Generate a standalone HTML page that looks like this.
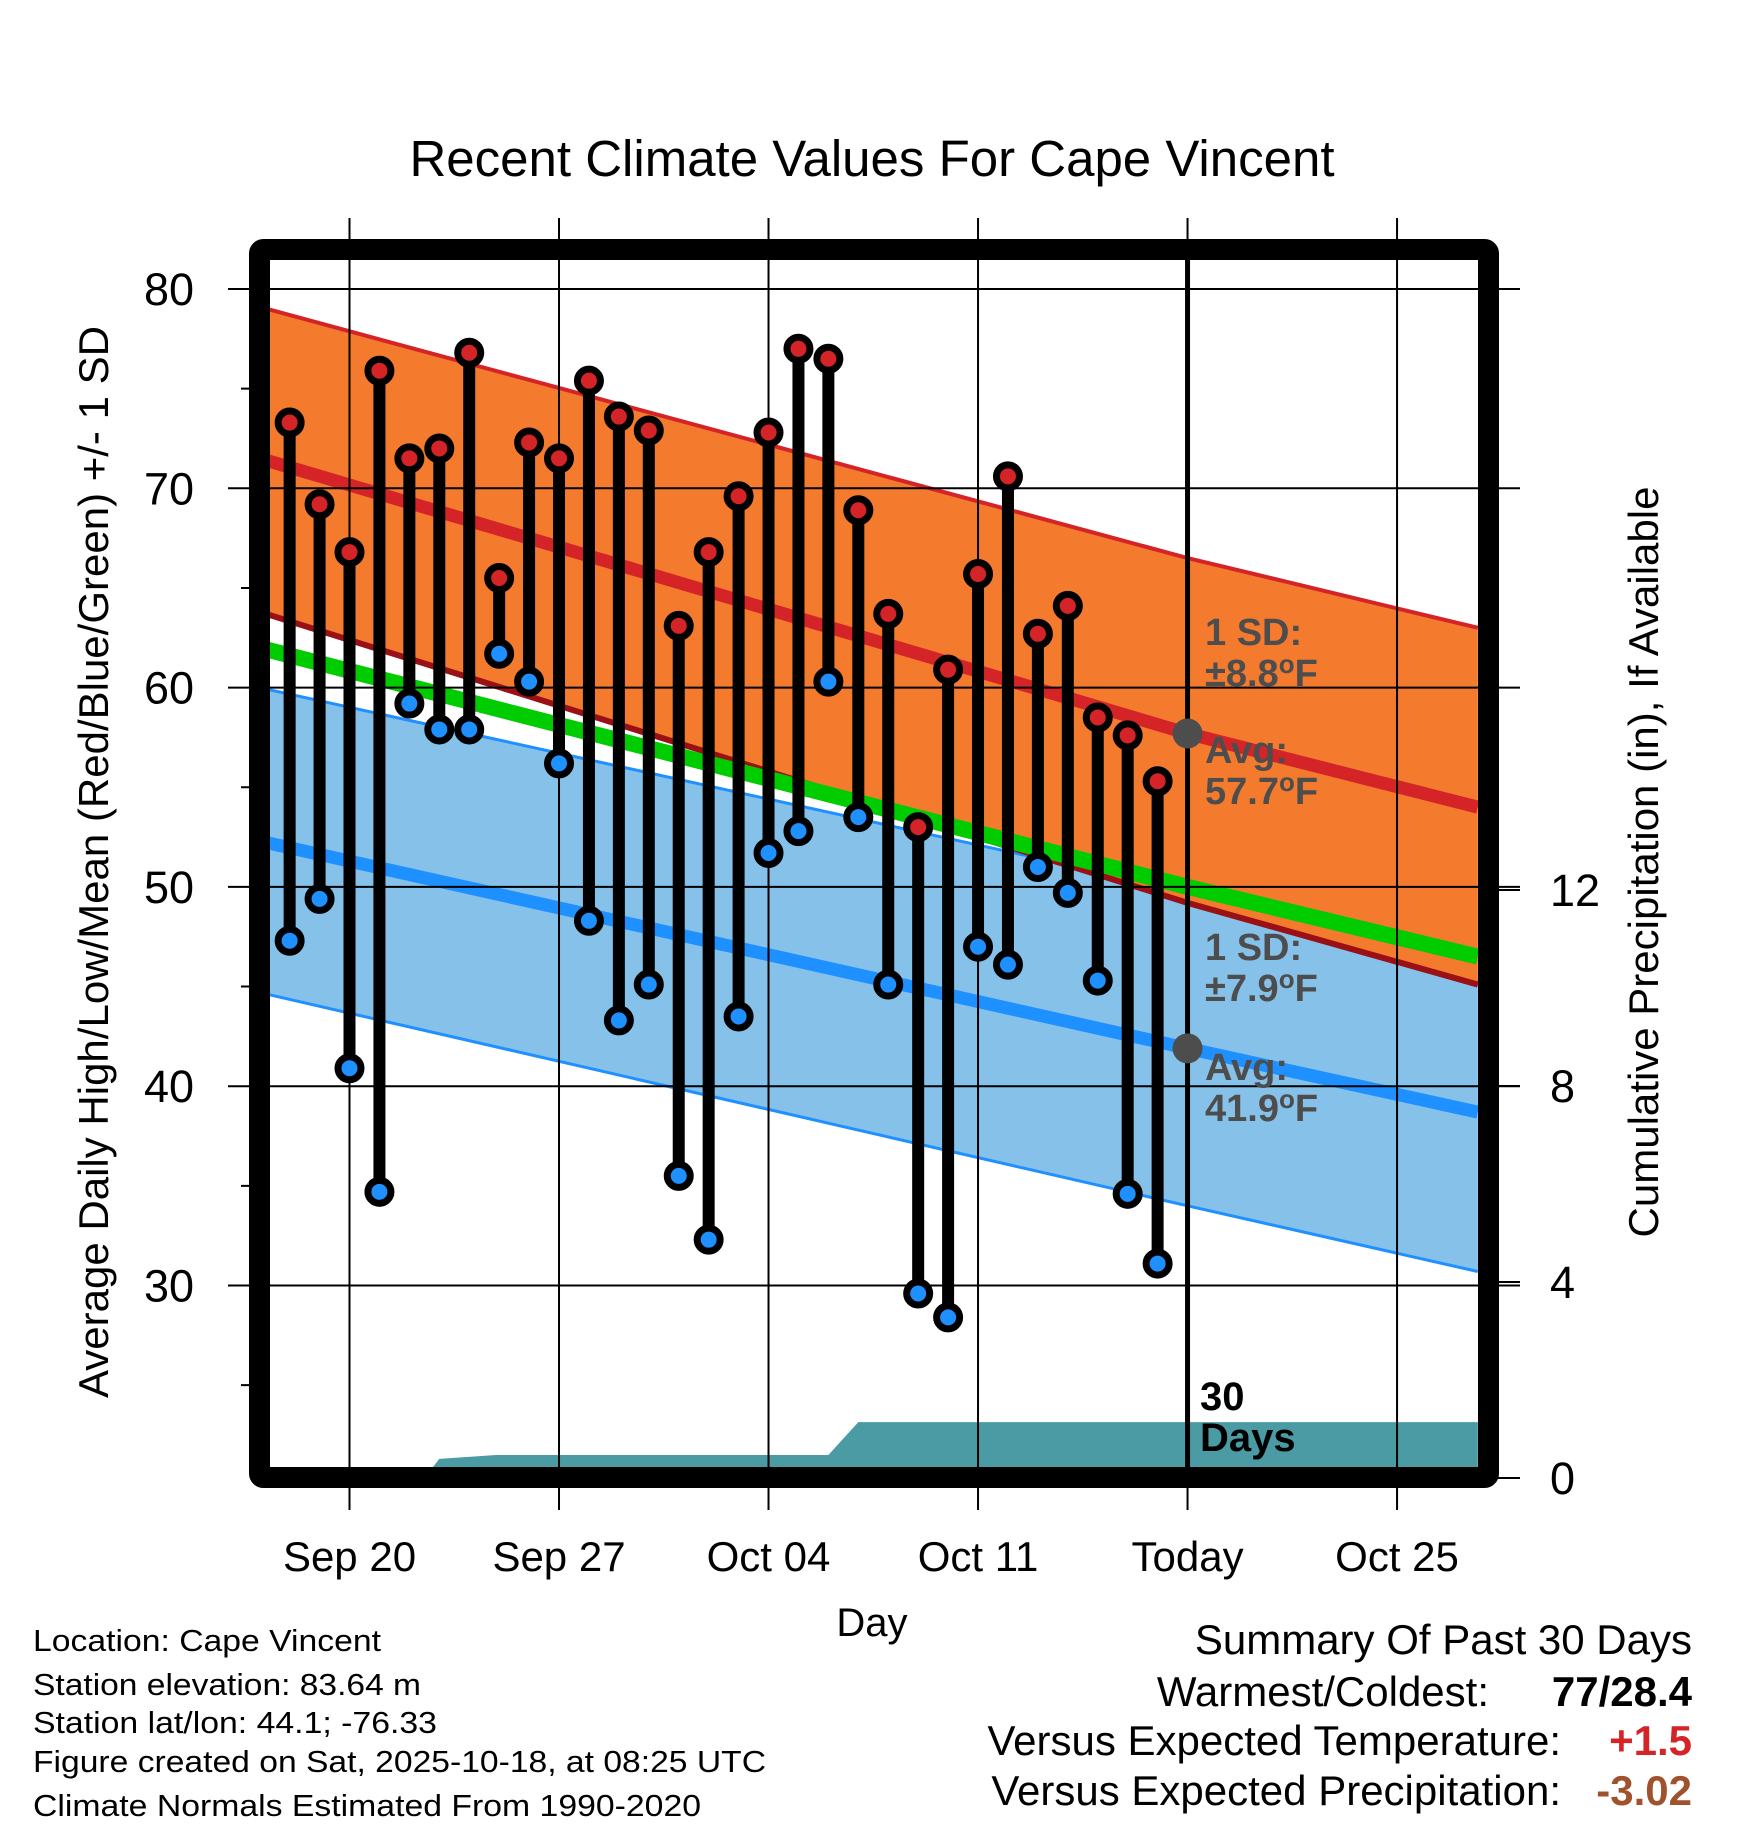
<!DOCTYPE html>
<html><head><meta charset="utf-8"><style>
html,body{margin:0;padding:0;background:#fff}
svg{display:block;font-family:"Liberation Sans",sans-serif}
</style></head><body>
<svg id="chart" width="1748" height="1828" viewBox="0 0 1748 1828" xmlns="http://www.w3.org/2000/svg">
<text x="872" y="176" font-size="51" text-anchor="middle">Recent Climate Values For Cape Vincent</text>
<g id="plot"></g>
<text transform="translate(108,862) rotate(-90)" font-size="42" text-anchor="middle">Average Daily High/Low/Mean (Red/Blue/Green) +/- 1 SD</text>
<text transform="translate(1658,862) rotate(-90)" font-size="42" text-anchor="middle">Cumulative Precipitation (in), If Available</text>
<text x="872" y="1636" font-size="40" text-anchor="middle">Day</text>
<g font-size="31">
<text x="33" y="1651" textLength="348" lengthAdjust="spacingAndGlyphs">Location: Cape Vincent</text>
<text x="33" y="1695" textLength="388" lengthAdjust="spacingAndGlyphs">Station elevation: 83.64 m</text>
<text x="33" y="1733" textLength="404" lengthAdjust="spacingAndGlyphs">Station lat/lon: 44.1; -76.33</text>
<text x="33" y="1772" textLength="733" lengthAdjust="spacingAndGlyphs">Figure created on Sat, 2025-10-18, at 08:25 UTC</text>
<text x="33" y="1816" textLength="668" lengthAdjust="spacingAndGlyphs">Climate Normals Estimated From 1990-2020</text>
</g>
<g font-size="42">
<text x="1692" y="1654" text-anchor="end">Summary Of Past 30 Days</text>
<text x="1489" y="1706" text-anchor="end">Warmest/Coldest:</text>
<text x="1692" y="1706" text-anchor="end" font-weight="bold">77/28.4</text>
<text x="1561" y="1755" text-anchor="end">Versus Expected Temperature:</text>
<text x="1692" y="1755" text-anchor="end" font-weight="bold" fill="#d42428">+1.5</text>
<text x="1561" y="1805" text-anchor="end">Versus Expected Precipitation:</text>
<text x="1692" y="1805" text-anchor="end" font-weight="bold" fill="#a0522d">-3.02</text>
</g>
</svg>
<script>
// data: days relative to Sep 20 (day 0)
const obsDays=[-2,-1,0,1,2,3,4,5,6,7,8,9,10,11,12,13,14,15,16,17,18,19,20,21,22,23,24,25,26,27];
const highs=[73.3,69.2,66.8,75.9,71.5,72.0,76.8,65.5,72.3,71.5,75.4,73.6,72.9,63.1,66.8,69.6,72.8,77.0,76.5,68.9,63.7,53.0,60.9,65.7,70.6,62.7,64.1,58.5,57.6,55.3];
const lows=[47.3,49.4,40.9,34.7,59.2,57.9,57.9,61.7,60.3,56.2,48.3,43.3,45.1,35.5,32.3,43.5,51.7,52.8,60.3,53.5,45.1,29.6,28.4,47.0,46.1,51.0,49.7,45.3,34.6,31.1];
const normDays=[-3.0,28,37.7];
const normHigh=[71.5,57.7,54.0];
const highSdUp=[79.1,66.5,63.0];
const highSdDn=[63.8,49.2,45.1];
const normMean=[62.0,50.0,46.5];
const normLow=[52.3,41.9,38.7];
const lowSdUp=[60.0,49.8,45.3];
const lowSdDn=[44.7,34.0,30.7];
const precipDays=[-3.0,2.5,3.0,4.9,16.0,17.0,37.7];
const precipCum=[0,0,0.39,0.47,0.47,1.14,1.14];
const yTicks=[30,40,50,60,70,80];
const yMinor=[25,35,45,55,65,75];
const y2Ticks=[0,4,8,12];
const xTickDays=[0,7,14,21,28,35];
const xTickLabels=["Sep 20","Sep 27","Oct 04","Oct 11","Today","Oct 25"];
const todayDay=28, todayHigh=57.7, todayLow=41.9;

const L=270,R=1478,T=260,B=1467;
const X=d=>349.5+d*29.93;
const Y=v=>289+(80-v)*19.93;
const Y2=p=>1478-p*49;
const NS="http://www.w3.org/2000/svg";
const plot=document.getElementById('plot');
function mk(tag,attrs,parent){const e=document.createElementNS(NS,tag);for(const k in attrs)e.setAttribute(k,attrs[k]);(parent||plot).appendChild(e);return e;}
function linePts(arr){return normDays.map((d,i)=>X(d)+','+Y(arr[i])).join(' ');}
function bandPts(up,dn){return normDays.map((d,i)=>X(d)+','+Y(up[i])).concat(normDays.slice().reverse().map((d,i)=>X(d)+','+Y(dn[dn.length-1-i]))).join(' ');}

mk('clipPath',{id:'cl'});
const cp=plot.lastChild;mk('rect',{x:L,y:T,width:R-L,height:B-T},cp);
const g=mk('g',{'clip-path':'url(#cl)'});

let e;
e=mk('polygon',{points:bandPts(lowSdUp,lowSdDn),fill:'#85c1e9'},g);


mk('polyline',{points:linePts(lowSdUp),fill:'none',stroke:'#1e90ff','stroke-width':3},g);
mk('polyline',{points:linePts(lowSdDn),fill:'none',stroke:'#1e90ff','stroke-width':3},g);
e=mk('polygon',{points:bandPts(highSdUp,highSdDn),fill:'#f47a2e'},g);


mk('polyline',{points:linePts(highSdUp),fill:'none',stroke:'#d42428','stroke-width':4},g);
e=mk('polyline',{points:linePts(highSdDn),fill:'none',stroke:'#9a1015','stroke-width':6},g);


e=mk('polyline',{points:linePts(normMean),fill:'none',stroke:'#00cc00','stroke-width':16},g);


e=mk('polyline',{points:linePts(normHigh),fill:'none',stroke:'#d42428','stroke-width':13},g);


e=mk('polyline',{points:linePts(normLow),fill:'none',stroke:'#1e90ff','stroke-width':13},g);


let pp=precipDays.map((d,i)=>X(d)+','+Y2(precipCum[i]));
pp.push(X(precipDays[precipDays.length-1])+','+Y2(0),X(precipDays[0])+','+Y2(0));
e=mk('polygon',{points:pp.join(' '),fill:'#4a9ba4'},g);



yTicks.forEach(v=>{e=mk('line',{x1:L,x2:1520,y1:Y(v),y2:Y(v),stroke:'#000','stroke-width':2});
 
 
 mk('line',{x1:228,x2:L,y1:Y(v),y2:Y(v),stroke:'#000','stroke-width':2});
 e=mk('text',{x:194,y:Y(v)+16,'font-size':45,'text-anchor':'end'});e.textContent=v;
 
 });
yMinor.forEach(v=>{mk('line',{x1:241,x2:L,y1:Y(v),y2:Y(v),stroke:'#000','stroke-width':2});});
y2Ticks.forEach(p=>{mk('line',{x1:1488,x2:1520,y1:Y2(p),y2:Y2(p),stroke:'#000','stroke-width':2});
 e=mk('text',{x:1550,y:Y2(p)+16,'font-size':45});e.textContent=p;
 
 });
xTickDays.forEach((d,i)=>{e=mk('line',{x1:X(d),x2:X(d),y1:218,y2:1510,stroke:'#000','stroke-width':2});
 
 
 e=mk('text',{x:X(d),y:1571,'font-size':42,'text-anchor':'middle'});e.textContent=xTickLabels[i];
 
 });

e=mk('line',{x1:X(todayDay),x2:X(todayDay),y1:T,y2:B,stroke:'#000','stroke-width':5});



obsDays.forEach((d,i)=>{e=mk('line',{x1:X(d),x2:X(d),y1:Y(highs[i]),y2:Y(lows[i]),stroke:'#000','stroke-width':12});
 
 });
obsDays.forEach((d,i)=>{
 e=mk('circle',{cx:X(d),cy:Y(highs[i]),r:11.5,fill:'#d42428',stroke:'#000','stroke-width':7});
 
 
 e=mk('circle',{cx:X(d),cy:Y(lows[i]),r:11.5,fill:'#1e90ff',stroke:'#000','stroke-width':7});
 
 });

e=mk('circle',{cx:X(todayDay),cy:Y(todayHigh),r:15,fill:'#4d4d4d'});


e=mk('circle',{cx:X(todayDay),cy:Y(todayLow),r:15,fill:'#4d4d4d'});



function ann(x,y,lines,col,name,fs){const t=mk('text',{x:x,y:y,'font-size':fs,'font-weight':'bold',fill:col});
 
 
 lines.forEach((s,i)=>{const ts=mk('tspan',{x:x,dy:i?41:0},t);ts.innerHTML=s;});}
const ax=1205;
ann(ax,645,['1 SD:','±8.8<tspan dy="-13" font-size="26">o</tspan><tspan dy="13">F</tspan>'],'#4d4d4d','high-sd-annotation',38);
ann(ax,763,['Avg:','57.7<tspan dy="-13" font-size="26">o</tspan><tspan dy="13">F</tspan>'],'#4d4d4d','high-avg-annotation',38);
ann(ax,960,['1 SD:','±7.9<tspan dy="-13" font-size="26">o</tspan><tspan dy="13">F</tspan>'],'#4d4d4d','low-sd-annotation',38);
ann(ax,1080,['Avg:','41.9<tspan dy="-13" font-size="26">o</tspan><tspan dy="13">F</tspan>'],'#4d4d4d','low-avg-annotation',38);
ann(1200,1410,['30','Days'],'#000','days-annotation',40);

e=mk('rect',{x:259.5,y:249.5,width:1229,height:1228,fill:'none',stroke:'#000','stroke-width':21,rx:4});


</script>
</body></html>
